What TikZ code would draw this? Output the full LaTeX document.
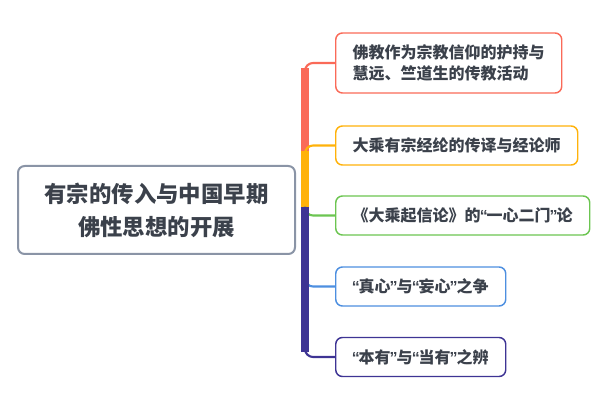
\documentclass[tikz,border=0pt]{standalone}
\usepackage{fontspec}
\setmainfont{Noto Sans CJK SC}
\newfontfamily\quofont{Liberation Sans}
\newcommand{\zhlq}{{\kern-0.6pt\quofont\bfseries “\kern-0.9pt}}
\newcommand{\zhrq}{{\kern-0.9pt\quofont\bfseries ”\kern-0.6pt}}

\definecolor{ink}{HTML}{3B414B}
\definecolor{rootgray}{HTML}{8A94A6}
\definecolor{bred}{HTML}{FA6A58}
\definecolor{borange}{HTML}{FFB20A}
\definecolor{bgreen}{HTML}{6CC551}
\definecolor{bblue}{HTML}{4D8FE0}
\definecolor{bpurple}{HTML}{3E3494}

\begin{document}
\begin{tikzpicture}[x=0.75pt,y=-0.75pt]
		\tikzset{topic/.style = {draw=rootgray, line width=1.5pt, rounded corners=5pt, fill=white, text=ink,
				font=\fontsize{16.8}{24.75}\selectfont\bfseries, align=center,
				minimum width=207.75pt, minimum height=66pt}}
		\tikzset{subtopic/.style = {draw=#1, line width=1.1pt, rounded corners=5pt, fill=white, text=ink,
				font=\fontsize{12}{15.75}\selectfont\bfseries, align=left, anchor=west,
				inner xsep=12.75pt, minimum height=29.25pt}}
		\tikzset{trunk/.style = {draw=#1, line width=5.5pt, shorten >=4pt}}
		\tikzset{edge/.style = {draw=#1, line width=1.6pt, rounded corners=6pt}}
		
		\useasboundingbox (0,0) rectangle (600,406);
		
		\node[topic] (0) at (156.5,210) {有宗的传入与中国早期\\佛性思想的开展};
		\coordinate (hub) at (305,207);
		
		\node[subtopic=bred, minimum height=45pt] (1) at (335,63) {佛教作为宗教信仰的护持与\\慧远、竺道生的传教活动};
		\node[subtopic=borange] (2) at (335,145.5) {大乘有宗经纶的传译与经论师};
		\node[subtopic=bgreen]  (3) at (335,215.5) {《大乘起信论》的\zhlq 一心二门\zhrq 论};
		\node[subtopic=bblue]   (4) at (335,286.5) {\zhlq 真心\zhrq 与\zhlq 妄心\zhrq 之争};
		\node[subtopic=bpurple] (5) at (335,357) {\zhlq 本有\zhrq 与\zhlq 当有\zhrq 之辨};
		
		\draw[edge=bred]    (hub) |- (1.west);
		\draw[trunk=bred]   (hub) -- (hub |- 1.west);
		\draw[edge=borange] (hub) |- (2.west);
		\draw[trunk=borange](hub) -- (hub |- 2.west);
		\draw[edge=bgreen]  (hub) |- (3.west);
		\draw[edge=bblue]   (hub) |- (4.west);
		\draw[edge=bpurple] (hub) |- (5.west);
		\draw[trunk=bpurple](hub) -- (hub |- 5.west);
\end{tikzpicture}
\end{document}
